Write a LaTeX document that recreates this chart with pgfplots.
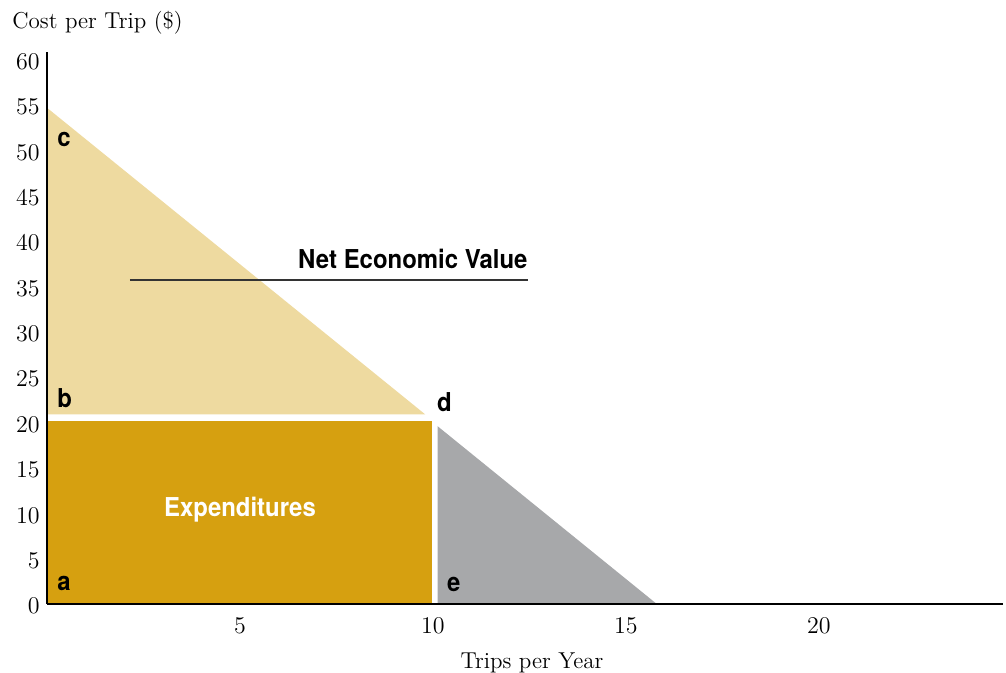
\documentclass[border=0pt]{standalone}
\usepackage{pgfplots}
\pgfplotsset{compat=1.18}
\usepackage{fontspec}
\newfontfamily\condfont[FakeStretch=0.92]{TeX Gyre Heros}
\definecolor{tan}{RGB}{238,218,160}
\definecolor{gold}{RGB}{214,160,16}
\definecolor{grayfill}{RGB}{167,168,170}
\begin{document}
\begin{tikzpicture}
\begin{axis}[
  name=ax,
  scale only axis,
  width=478pt, height=276pt,
  xmin=0, xmax=24.77, ymin=0, ymax=60.85,
  axis x line=bottom, axis y line=left,
  axis line style={-, line width=0.9pt, black},
  axis on top,
  xtick={5,10,15,20}, ytick={0,5,...,60},
  major tick length=0pt,
  tick label style={font=\fontsize{11.5}{13}\selectfont},
  xticklabel style={inner sep=0pt, anchor=north, yshift=-7pt},
  yticklabel style={inner sep=0pt, anchor=east, xshift=-3.5pt, yshift=-1pt},
  clip=false,
]
\addplot[fill=tan, draw=none] coordinates {(0,54.7) (9.8,20.9) (0,20.9)} -- cycle;
\addplot[fill=gold, draw=none] coordinates {(0,0) (9.97,0) (9.97,20.2) (0,20.2)} -- cycle;
\addplot[fill=grayfill, draw=none] coordinates {(10.12,0) (10.12,19.6) (15.8,0)} -- cycle;
\addplot[draw=black!80, line width=0.7pt] coordinates {(2.15,35.7) (12.46,35.7)};
\node[font=\condfont\bfseries\fontsize{13}{15}\selectfont, anchor=east, inner sep=0pt] at (axis cs:12.46,38.0) {Net Economic Value};
\node[font=\condfont\bfseries\fontsize{13}{15}\selectfont, white, inner sep=0pt] at (axis cs:5,10.4) {Expenditures};
\node[font=\condfont\bfseries\fontsize{13}{15}\selectfont, anchor=west, inner sep=0pt] at (axis cs:0.26,51.2) {c};
\node[font=\condfont\bfseries\fontsize{13}{15}\selectfont, anchor=west, inner sep=0pt] at (axis cs:0.26,22.7) {b};
\node[font=\condfont\bfseries\fontsize{13}{15}\selectfont, anchor=west, inner sep=0pt] at (axis cs:0.26,2.3) {a};
\node[font=\condfont\bfseries\fontsize{13}{15}\selectfont, anchor=west, inner sep=0pt] at (axis cs:10.1,22.3) {d};
\node[font=\condfont\bfseries\fontsize{13}{15}\selectfont, anchor=west, inner sep=0pt] at (axis cs:10.36,2.2) {e};
\end{axis}
\node[anchor=base west, inner sep=0pt, font=\fontsize{11.5}{13}\selectfont] at ([shift={(-17.5pt,11.5pt)}]ax.north west) {Cost per Trip (\$)};
\node[anchor=base, inner sep=0pt, font=\fontsize{11.5}{13}\selectfont] at ([shift={(242.5pt,-32.5pt)}]ax.south west) {Trips per Year};
\pgfresetboundingbox
\path ([shift={(-23.5pt,-34.5pt)}]ax.south west) rectangle ([shift={(1.5pt,26pt)}]ax.north east);
\end{tikzpicture}
\end{document}
